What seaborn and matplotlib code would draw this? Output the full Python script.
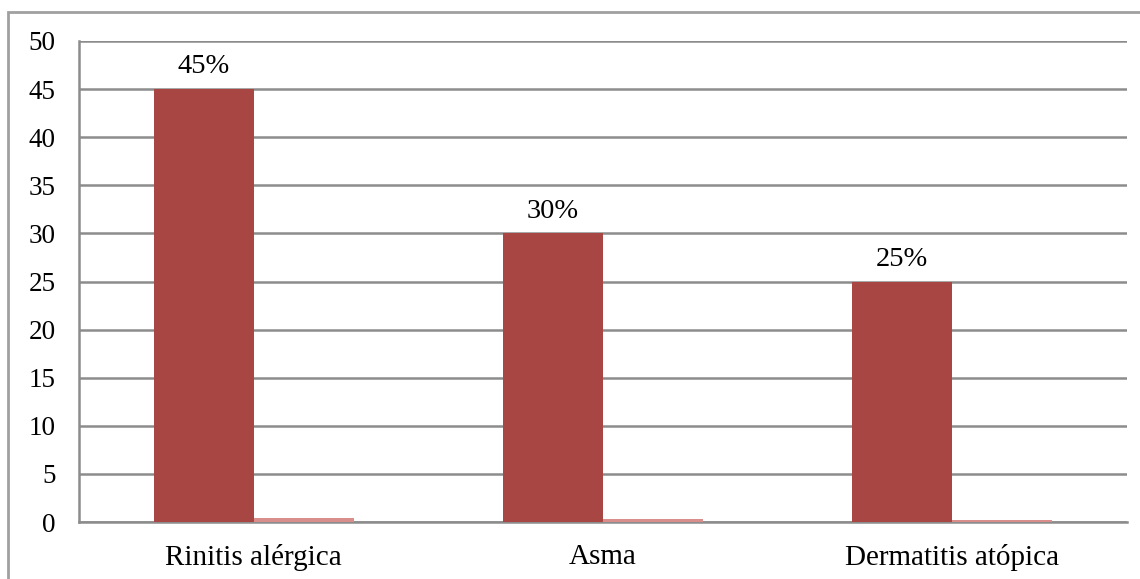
import pandas as pd
import seaborn as sns
import matplotlib.pyplot as plt
from matplotlib.patches import Rectangle

categories = ["Rinitis alérgica", "Asma", "Dermatitis atópica"]
porcentaje = [45, 30, 25]
proporcion = [0.45, 0.30, 0.25]
etiquetas = ["45%", "30%", "25%"]

df = pd.DataFrame({
    "categoria": categories * 2,
    "valor": porcentaje + proporcion,
    "serie": ["porcentaje"] * 3 + ["proporcion"] * 3,
})

sns.set_style("white")
plt.rcParams["font.family"] = ["Liberation Serif", "DejaVu Serif"]
plt.rcParams["text.color"] = "black"
plt.rcParams["xtick.labelcolor"] = "black"
plt.rcParams["ytick.labelcolor"] = "black"

fig = plt.figure(figsize=(11.4, 5.79), dpi=100)
ax = fig.add_axes([79 / 1140, 1 - 522 / 579, (1127 - 79) / 1140, (522 - 41) / 579])

sns.barplot(data=df, x="categoria", y="valor", hue="serie", order=categories,
            palette=["#A84644", "#D98E8C"], width=0.573, gap=0, saturation=1,
            linewidth=0, legend=False, ax=ax)
for p in ax.patches:
    p.set_zorder(3)

# outer frame like the exported chart
fig.patches.append(Rectangle((8 / 1140, -0.05), 1.2, 1.05 - 12 / 579,
                             transform=fig.transFigure, fill=False,
                             edgecolor="#A0A0A0", linewidth=2, zorder=0))

ax.set_xlim(-0.5, 2.5)
ax.set_ylim(0, 50)
ax.set_yticks(range(0, 51, 5))
ax.yaxis.grid(True, color="#8C8C8C", linewidth=1.8)
ax.set_axisbelow(True)
for s in ["top", "right"]:
    ax.spines[s].set_visible(False)
for s in ["left", "bottom"]:
    ax.spines[s].set_color("#8C8C8C")
    ax.spines[s].set_linewidth(1.8)
    ax.spines[s].set_zorder(2)

ax.set_xticks([-0.5, 0.5, 1.5, 2.5], minor=True)
ax.tick_params(axis="x", which="minor", length=8, width=1.5, color="#8C8C8C", direction="out")
ax.tick_params(axis="x", which="major", length=0, labelsize=21, pad=16, labelcolor="black")
ax.tick_params(axis="y", length=8, width=1.5, color="#8C8C8C", direction="out",
               labelsize=19.5, pad=9, labelcolor="black")
ax.set_xlabel("")
ax.set_ylabel("")

bars = ax.containers[0]
ax.bar_label(bars, labels=etiquetas, padding=7, fontsize=20.5, color="black")

fig.savefig("out.png", dpi=100)
